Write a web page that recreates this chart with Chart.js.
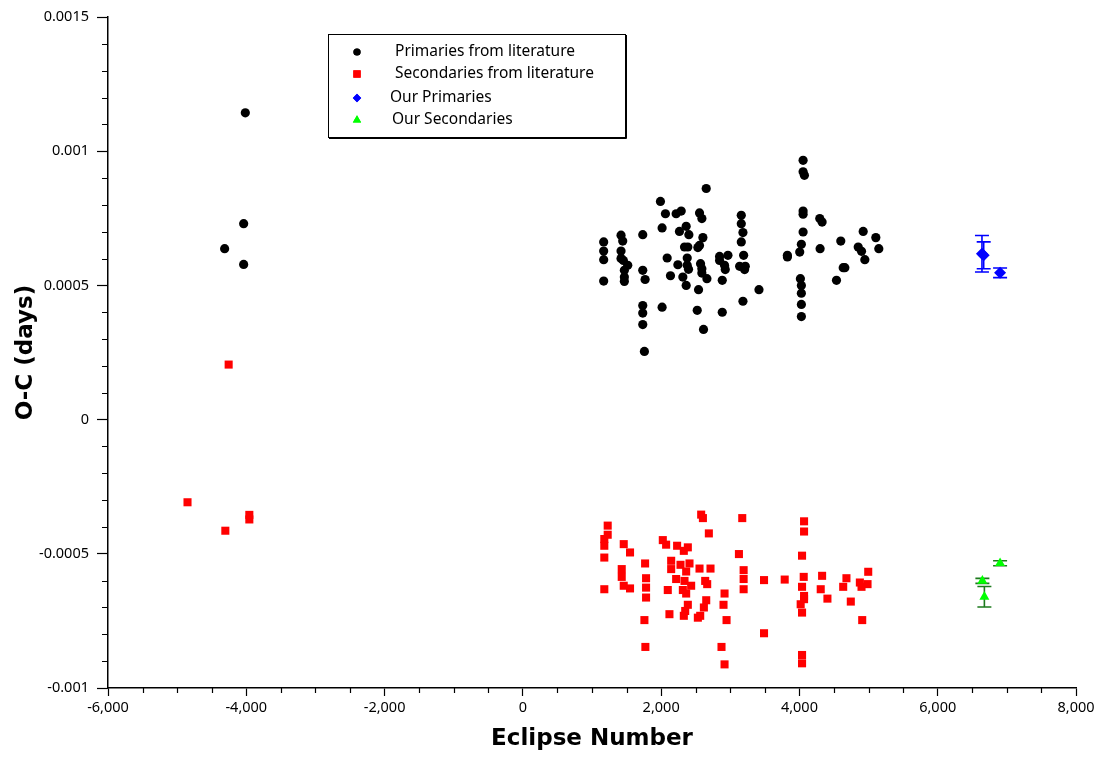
<!DOCTYPE html>
<html>
<head>
<meta charset="utf-8">
<title>O-C diagram</title>
<script src="https://cdn.jsdelivr.net/npm/chart.js@4.4.1/dist/chart.umd.min.js"></script>
<style>
  html, body { margin: 0; padding: 0; background: #fff; }
  #wrap { width: 1103px; height: 761px; }
</style>
</head>
<body>
<div id="wrap"><canvas id="ocChart" width="1103" height="761"></canvas></div>
<script>
/* ---------- DATA ---------- */
const primLitX = [-4014, -4038, -4313, -4038,
  4053, 4053, 4072, 2652, 1990, 2062, 2217, 2290, 2555, 2589, 3159, 3159, 4053, 4053, 4294, 4328,
  2014, 2362, 2265, 2401, 3183, 4053, 4922, 1734, 1420, 1169, 1444, 2604, 2555, 2531, 2338, 2386,
  3159, 4028, 4004, 4598, 5105, 4850, 4898, 5148, 4946, 4299, 1169, 1169, 1169, 1420, 1420, 1454,
  1517, 1468, 1468, 1468, 1734, 1768, 1734, 1734, 1734, 1758, 2014, 2087, 2135, 2242, 2314, 2362,
  2377, 2377, 2396, 2541, 2522, 2613, 2570, 2589, 2589, 2662, 2845, 2845, 2966, 2917, 2927, 2884,
  2884, 3193, 3135, 3217, 3207, 3183, 3415, 3826, 3826, 4014, 4028, 4028, 4028, 4028, 4633, 4657, 4536];
const primLitY = [0.001143, 0.000730, 0.000637, 0.000578,
  0.000966, 0.000923, 0.000910, 0.000861, 0.000813, 0.000767, 0.000767, 0.000777, 0.000770, 0.000749, 0.000761, 0.000730, 0.000777, 0.000765, 0.000749, 0.000736,
  0.000714, 0.000720, 0.000701, 0.000689, 0.000697, 0.000699, 0.000701, 0.000689, 0.000687, 0.000662, 0.000665, 0.000678, 0.000649, 0.000641, 0.000643, 0.000643,
  0.000662, 0.000653, 0.000624, 0.000665, 0.000678, 0.000643, 0.000627, 0.000637, 0.000596, 0.000637, 0.000628, 0.000596, 0.000516, 0.000628, 0.000600, 0.000593,
  0.000575, 0.000556, 0.000531, 0.000515, 0.000556, 0.000522, 0.000425, 0.000397, 0.000354, 0.000254, 0.000419, 0.000602, 0.000536, 0.000577, 0.000531, 0.000500,
  0.000602, 0.000575, 0.000560, 0.000484, 0.000407, 0.000336, 0.000581, 0.000562, 0.000546, 0.000525, 0.000608, 0.000593, 0.000612, 0.000575, 0.000559, 0.000519,
  0.000400, 0.000612, 0.000571, 0.000571, 0.000559, 0.000441, 0.000484, 0.000612, 0.000606, 0.000525, 0.000500, 0.000471, 0.000429, 0.000384, 0.000566, 0.000566, 0.000519];

const secLitX = [-4255, -4850, -3956, -3956, -4303,
  2579, 2604, 3173, 4067, 4067, 2690, 1227, 1227, 1178, 1178, 1178, 1459, 1550, 2024, 2072, 2231,
  2386, 2328, 3125, 4038, 1768, 1430, 1430, 2145, 2145, 2280, 2410, 2555, 2714, 2362, 3193, 3193,
  3488, 3787, 4062, 4328, 4680, 4995, 1782, 1782, 1782, 2217, 2338, 2434, 2314, 2362, 2637, 2666,
  1178, 1459, 1550, 2096, 3193, 4038, 4067, 4067, 4308, 4405, 4633, 4874, 4898, 4985, 2917, 2652,
  2618, 2386, 2348, 2328, 2565, 2531, 2120, 2902, 2946, 4018, 4038, 4743, 4908, 1758, 3488, 1772,
  2873, 2917, 4038, 4038];
const secLitY = [0.000205, -0.000308, -0.000355, -0.000372, -0.000414,
  -0.000354, -0.000367, -0.000367, -0.000379, -0.000417, -0.000424, -0.000395, -0.000429, -0.000445, -0.000470, -0.000514, -0.000464, -0.000495, -0.000449, -0.000466, -0.000470,
  -0.000476, -0.000489, -0.000501, -0.000507, -0.000536, -0.000557, -0.000586, -0.000526, -0.000557, -0.000541, -0.000536, -0.000555, -0.000555, -0.000566, -0.000561, -0.000594,
  -0.000598, -0.000596, -0.000586, -0.000582, -0.000591, -0.000567, -0.000591, -0.000626, -0.000663, -0.000594, -0.000601, -0.000619, -0.000635, -0.000648, -0.000601, -0.000613,
  -0.000632, -0.000619, -0.000629, -0.000635, -0.000632, -0.000623, -0.000657, -0.000669, -0.000632, -0.000667, -0.000623, -0.000607, -0.000623, -0.000613, -0.000648, -0.000673,
  -0.000700, -0.000690, -0.000713, -0.000731, -0.000731, -0.000738, -0.000725, -0.000690, -0.000747, -0.000688, -0.000719, -0.000678, -0.000747, -0.000747, -0.000796, -0.000847,
  -0.000847, -0.000912, -0.000877, -0.000908];

const ourPrimX = [6640, 6665, 6902];
const ourPrimY = [0.000618, 0.000612, 0.000547];
const ourPrimErr = [0.000068, 0.000050, 0.000018];

const ourSecX = [6902, 6646, 6675];
const ourSecY = [-0.000535, -0.000601, -0.000660];
const ourSecErr = [0.0000093, 0.0000093, 0.000038];

const seriesLabels = ['Primaries from literature', 'Secondaries from literature', 'Our Primaries', 'Our Secondaries'];

const xTicks = [-6000, -4000, -2000, 0, 2000, 4000, 6000, 8000];
const xTickLabels = ['-6,000', '-4,000', '-2,000', '0', '2,000', '4,000', '6,000', '8,000'];
const yTicks = [-0.001, -0.0005, 0, 0.0005, 0.001, 0.0015];
const yTickLabels = ['-0.001', '-0.0005', '0', '0.0005', '0.001', '0.0015'];

const toPoints = (xs, ys) => xs.map((x, i) => ({ x, y: ys[i] }));

const FONT = "'DejaVu Sans', sans-serif";
const LABEL_FONT = "'Noto Sans', 'DejaVu Sans', sans-serif";

/* ---------- ERROR BARS ---------- */
const errorBarPlugin = {
  id: 'errorBars',
  beforeDatasetsDraw(chart) {
    const { ctx, scales: { x, y } } = chart;
    chart.data.datasets.forEach(ds => {
      if (!ds.errorBars) return;
      ctx.save();
      ctx.strokeStyle = ds.errorColor;
      ctx.lineWidth = 1.6;
      ds.data.forEach((p, i) => {
        const px = x.getPixelForValue(p.x);
        const top = y.getPixelForValue(p.y + ds.errorBars[i]);
        const bot = y.getPixelForValue(p.y - ds.errorBars[i]);
        ctx.beginPath();
        ctx.moveTo(px, top); ctx.lineTo(px, bot);
        ctx.moveTo(px - 7, top); ctx.lineTo(px + 7, top);
        ctx.moveTo(px - 7, bot); ctx.lineTo(px + 7, bot);
        ctx.stroke();
      });
      ctx.restore();
    });
  }
};

/* ---------- MINOR TICKS ---------- */
const minorTickPlugin = {
  id: 'minorTicks',
  afterDraw(chart) {
    const { ctx, scales: { x, y } } = chart;
    ctx.save();
    ctx.strokeStyle = '#000';
    ctx.lineWidth = 1.2;
    ctx.beginPath();
    for (let v = -6000; v <= 8000; v += 500) {
      if (v % 2000 === 0) continue;
      const px = Math.round(x.getPixelForValue(v)) + 0.5;
      ctx.moveTo(px, x.top); ctx.lineTo(px, x.top + 5);
    }
    for (let i = -10; i <= 15; i++) {
      if (i % 5 === 0) continue;
      const py = Math.round(y.getPixelForValue(i / 10000)) + 0.5;
      ctx.moveTo(y.right - 6, py); ctx.lineTo(y.right, py);
    }
    ctx.stroke();
    ctx.restore();
  }
};

/* ---------- LEGEND BOX ---------- */
const boxLegendPlugin = {
  id: 'boxLegend',
  afterDraw(chart) {
    const { ctx, chartArea } = chart;
    const left = chartArea.left + 220, top = chartArea.top + 17;
    const w = 297, h = 103;
    const rowY = [18, 40, 64, 86];
    const textX = [67, 67, 62, 64];
    const markR = [3.6, 5.2, 4.2, 4.8];
    ctx.save();
    ctx.fillStyle = '#fff';
    ctx.fillRect(left, top, w, h);
    ctx.strokeStyle = '#000';
    ctx.lineWidth = 1;
    ctx.strokeRect(left + 0.5, top + 0.5, w, h);
    ctx.beginPath();
    ctx.moveTo(left + 1, top + h + 1.5); ctx.lineTo(left + w + 1.5, top + h + 1.5);
    ctx.lineTo(left + w + 1.5, top + 1);
    ctx.stroke();
    ctx.font = '15.5px ' + LABEL_FONT;
    ctx.textBaseline = 'middle';
    chart.data.datasets.forEach((ds, i) => {
      const cy = top + rowY[i];
      ctx.fillStyle = ds.backgroundColor;
      Chart.helpers.drawPoint(ctx, { pointStyle: ds.pointStyle, radius: markR[i], borderWidth: 0 }, left + 29, cy);
      ctx.fill();
      ctx.fillStyle = '#000';
      ctx.fillText(ds.label, left + textX[i], cy);
    });
    ctx.restore();
  }
};

/* ---------- CHART ---------- */
const axisBorder = { display: true, color: '#000', width: 1.5 };

new Chart(document.getElementById('ocChart'), {
  type: 'scatter',
  data: {
    datasets: [
      {
        label: seriesLabels[0],
        data: toPoints(primLitX, primLitY),
        pointStyle: 'circle', pointRadius: 4.6,
        backgroundColor: '#000000', borderWidth: 0
      },
      {
        label: seriesLabels[1],
        data: toPoints(secLitX, secLitY),
        pointStyle: 'rect', pointRadius: 5.7,
        backgroundColor: '#ff0000', borderWidth: 0
      },
      {
        label: seriesLabels[2],
        data: toPoints(ourPrimX, ourPrimY),
        errorBars: ourPrimErr, errorColor: '#0000ff',
        pointStyle: 'rectRot', pointRadius: 6,
        backgroundColor: '#0000ff', borderWidth: 0
      },
      {
        label: seriesLabels[3],
        data: toPoints(ourSecX, ourSecY),
        errorBars: ourSecErr, errorColor: '#1c7a1c',
        pointStyle: 'triangle', pointRadius: 5.8,
        backgroundColor: '#00ff00', borderWidth: 0
      }
    ]
  },
  options: {
    responsive: false,
    animation: false,
    devicePixelRatio: 1,
    events: [],
    layout: { padding: { top: 17, right: 27, left: 0, bottom: 0 } },
    plugins: { legend: { display: false }, tooltip: { enabled: false } },
    scales: {
      x: {
        type: 'linear', min: -6000, max: 8000,
        border: axisBorder,
        grid: { drawOnChartArea: false, drawTicks: true, tickLength: 8, tickColor: '#000', tickWidth: 1.2 },
        afterBuildTicks: s => { s.ticks = xTicks.map(v => ({ value: v })); },
        afterFit: s => { s.height = 73; },
        ticks: {
          autoSkip: false, maxRotation: 0, padding: 3, color: '#000',
          font: { family: LABEL_FONT, size: 14.5 },
          callback: (v, i) => xTickLabels[i]
        },
        title: {
          display: true, text: 'Eclipse Number', color: '#000',
          font: { family: FONT, size: 23, weight: 'bold' },
          padding: { top: 0, bottom: 8 }
        }
      },
      y: {
        type: 'linear', min: -0.001, max: 0.0015,
        border: axisBorder,
        grid: { drawOnChartArea: false, drawTicks: true, tickLength: 11, tickColor: '#000', tickWidth: 1.2 },
        afterBuildTicks: s => { s.ticks = yTicks.map(v => ({ value: v })); },
        afterFit: s => { s.width = 108; },
        ticks: {
          autoSkip: false, padding: 8, color: '#000',
          font: { family: LABEL_FONT, size: 14.5 },
          callback: (v, i) => yTickLabels[i]
        },
        title: {
          display: true, text: 'O-C (days)', color: '#000',
          font: { family: FONT, size: 23, weight: 'bold' },
          padding: { top: 12, bottom: 0 }
        }
      }
    }
  },
  plugins: [errorBarPlugin, minorTickPlugin, boxLegendPlugin]
});
</script>
</body>
</html>
